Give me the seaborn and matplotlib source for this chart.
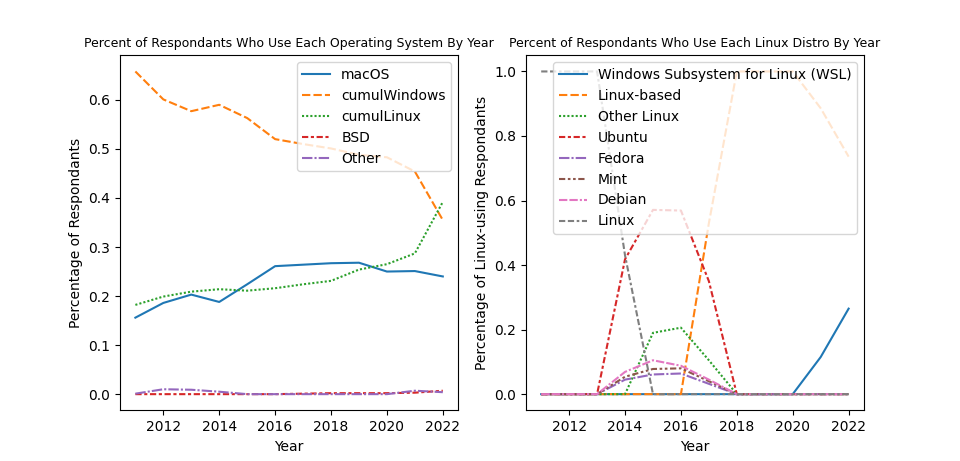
import numpy as np
import pandas as pd
import matplotlib
matplotlib.use("Agg")
import matplotlib.pyplot as plt
import seaborn as sns

years = list(range(2011, 2023))

# share of all respondents per operating system
macos = [0.156, 0.186, 0.203, 0.188, 0.224, 0.261, 0.264, 0.267, 0.268, 0.250, 0.251, 0.240]
cumul_windows = [0.658, 0.601, 0.577, 0.590, 0.563, 0.520, 0.510, 0.501, 0.488, 0.483, 0.454, 0.355]
cumul_linux = [0.182, 0.199, 0.209, 0.214, 0.211, 0.216, 0.224, 0.231, 0.254, 0.265, 0.287, 0.392]
bsd = [0.0, 0.0, 0.0, 0.0, 0.0, 0.0, 0.001, 0.002, 0.002, 0.002, 0.003, 0.007]
other_os = [0.001, 0.010, 0.009, 0.005, 0.0, 0.0, 0.0, 0.0, 0.0, 0.0, 0.007, 0.004]

# share of linux users per distro
wsl = [0.0, 0.0, 0.0, 0.0, 0.0, 0.0, 0.0, 0.0, 0.0, 0.0, 0.115, 0.265]
linux_based = [0.0, 0.0, 0.0, 0.0, 0.0, 0.0, 0.53, 1.0, 1.0, 1.0, 0.886, 0.736]
other_linux = [0.0, 0.0, 0.0, 0.0, 0.190, 0.206, 0.105, 0.0, 0.0, 0.0, 0.0, 0.0]
ubuntu = [0.0, 0.0, 0.0, 0.418, 0.571, 0.569, 0.35, 0.0, 0.0, 0.0, 0.0, 0.0]
fedora = [0.0, 0.0, 0.0, 0.045, 0.061, 0.064, 0.032, 0.0, 0.0, 0.0, 0.0, 0.0]
mint = [0.0, 0.0, 0.0, 0.054, 0.078, 0.080, 0.040, 0.0, 0.0, 0.0, 0.0, 0.0]
debian = [0.0, 0.0, 0.0, 0.069, 0.105, 0.088, 0.045, 0.0, 0.0, 0.0, 0.0, 0.0]
linux = [1.0, 1.0, 1.0, 0.43, 0.0, 0.0, 0.0, 0.0, 0.0, 0.0, 0.0, 0.0]

os_df = pd.DataFrame({
    'macOS': macos,
    'cumulWindows': cumul_windows,
    'cumulLinux': cumul_linux,
    'BSD': bsd,
    'Other': other_os,
}, index=pd.Index(years, name='Year'))

distro_df = pd.DataFrame({
    'Windows Subsystem for Linux (WSL)': wsl,
    'Linux-based': linux_based,
    'Other Linux': other_linux,
    'Ubuntu': ubuntu,
    'Fedora': fedora,
    'Mint': mint,
    'Debian': debian,
    'Linux': linux,
}, index=pd.Index(years, name='Year'))

fig, (ax1, ax2) = plt.subplots(1, 2, figsize=(9.6, 4.61), dpi=100)

sns.lineplot(data=os_df, ax=ax1)
ax1.set_title('Percent of Respondants Who Use Each Operating System By Year', fontsize=9)
ax1.set_xlabel('Year')
ax1.set_ylabel('Percentage of Respondants')
ax1.legend(loc='upper right')

sns.lineplot(data=distro_df, ax=ax2)
ax2.set_title('Percent of Respondants Who Use Each Linux Distro By Year', fontsize=9)
ax2.set_xlabel('Year')
ax2.set_ylabel('Percentage of Linux-using Respondants')
ax2.legend(loc='upper right')

fig.savefig('out.png', dpi=100)
